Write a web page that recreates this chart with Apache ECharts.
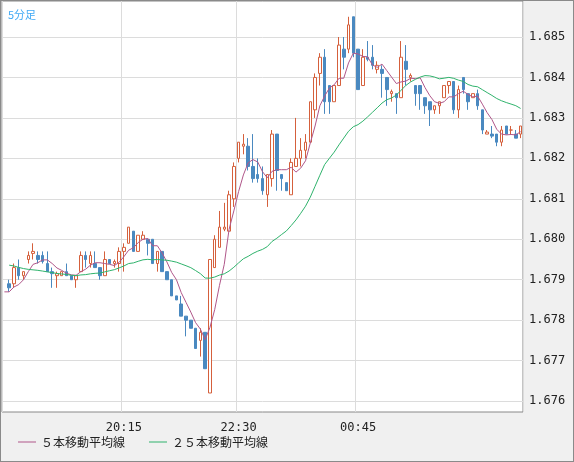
<!DOCTYPE html>
<html><head><meta charset="utf-8">
<script src="https://cdn.jsdelivr.net/npm/echarts@6/dist/echarts.min.js"></script>
<style>html,body{margin:0;padding:0;background:#f0f0f0}#c{width:572px;height:460px;border:1px solid #8a8a8a}</style>
</head><body><div id="c"></div>
<script>
// OHLC as [open, high, low, close]
const ohlc = [
[1.6789,1.6790,1.6787,1.6788],[1.6789,1.6794,1.6788,1.6793],[1.6793,1.6795,1.6790,1.6791],[1.6791,1.6792,1.6790,1.6792],
[1.6795,1.6797,1.6794,1.6796],[1.67965,1.6799,1.6795,1.6797],[1.6796,1.6797,1.6794,1.6795],[1.6796,1.6797,1.6794,1.67945],
[1.6794,1.6797,1.6792,1.6792],[1.6792,1.6793,1.6788,1.67915],[1.6791,1.6792,1.6788,1.67915],[1.6791,1.6792,1.6791,1.6792],
[1.6792,1.6794,1.6791,1.6791],[1.6791,1.6791,1.6790,1.6790],[1.6790,1.6791,1.6788,1.6791],[1.6792,1.6797,1.6792,1.6796],
[1.6796,1.6797,1.6793,1.6795],[1.6794,1.6797,1.6793,1.6796],[1.6794,1.6797,1.6793,1.6793],[1.6793,1.6793,1.6790,1.6791],
[1.6791,1.6797,1.6791,1.6795],[1.6795,1.6795,1.6794,1.6794],[1.6794,1.6795,1.6793,1.67945],[1.6794,1.6798,1.6792,1.6797],
[1.6797,1.6799,1.6792,1.6798],[1.6799,1.6803,1.6799,1.6803],[1.6802,1.6802,1.6797,1.6797],[1.6797,1.6801,1.6797,1.6801],
[1.6800,1.6802,1.6800,1.6801],[1.6800,1.6800,1.6796,1.6799],[1.6800,1.6800,1.6794,1.6794],[1.6794,1.6797,1.6792,1.6797],
[1.6797,1.6797,1.6792,1.6792],[1.6792,1.6792,1.6790,1.6790],[1.6790,1.6790,1.6786,1.6786],[1.6786,1.6786,1.6785,1.6785],
[1.6784,1.6786,1.6781,1.6781],[1.6781,1.6781,1.6776,1.6780],[1.6780,1.6780,1.6778,1.6778],[1.6778,1.6778,1.6773,1.6773],
[1.6775,1.6778,1.6771,1.6777],[1.6777,1.6777,1.6768,1.6768],[1.6762,1.6795,1.6762,1.6795],[1.6793,1.6801,1.6793,1.6800],
[1.6798,1.6807,1.6798,1.6803],[1.68025,1.6809,1.6802,1.6803],[1.6802,1.6812,1.6802,1.6811],[1.6810,1.6819,1.6808,1.6818],
[1.6820,1.6824,1.6819,1.6824],[1.6823,1.6826,1.6821,1.68235],[1.6823,1.6825,1.6817,1.6818],[1.6818,1.6826,1.6814,1.6815],
[1.6816,1.6820,1.6814,1.6815],[1.6815,1.6818,1.6811,1.6812],[1.6811,1.6816,1.6808,1.6816],[1.6815,1.6827,1.6813,1.6826],
[1.6826,1.6826,1.6812,1.6817],[1.6816,1.6816,1.6812,1.6815],[1.6814,1.6814,1.6812,1.6812],[1.6811,1.6820,1.6811,1.6819],
[1.6818,1.6830,1.6818,1.6820],[1.6820,1.6825,1.6818,1.6822],[1.6822,1.6826,1.6820,1.6824],[1.6824,1.6834,1.6824,1.6834],
[1.6832,1.6841,1.6830,1.6840],[1.6841,1.6846,1.6838,1.6845],[1.6845,1.6847,1.6831,1.6834],[1.6838,1.6838,1.6831,1.6834],
[1.6834,1.6838,1.6834,1.6838],[1.6838,1.6850,1.6838,1.6848],[1.6847,1.6850,1.6842,1.6845],[1.6847,1.6855,1.6846,1.6853],
[1.6855,1.6855,1.6845,1.6846],[1.6847,1.6847,1.6837,1.6837],[1.6838,1.6847,1.6838,1.6845],[1.6845,1.6849,1.6844,1.68445],
[1.6845,1.6848,1.6842,1.6843],[1.6842,1.6844,1.6841,1.6843],[1.6842,1.6843,1.6835,1.6841],[1.6840,1.6840,1.6833,1.6837],
[1.6836,1.6837,1.6834,1.68365],[1.6836,1.6836,1.6831,1.6835],[1.6835,1.6849,1.6835,1.6845],[1.6844,1.6848,1.6838,1.6842],
[1.6840,1.6841,1.6839,1.68405],[1.6838,1.6838,1.6833,1.6836],[1.6838,1.6838,1.6832,1.6836],[1.6835,1.6835,1.6831,1.6833],
[1.6834,1.6834,1.6828,1.6832],[1.6832,1.6833,1.6831,1.6833],[1.6833,1.6834,1.6831,1.6834],[1.6835,1.6838,1.6835,1.6838],
[1.6838,1.6839,1.6836,1.6839],[1.6839,1.6839,1.6831,1.6832],[1.6832,1.6838,1.6830,1.6837],[1.6840,1.6840,1.6836,1.6837],
[1.6836,1.6836,1.6832,1.6834],[1.6835,1.6836,1.6835,1.6836],[1.6836,1.6837,1.6832,1.6833],[1.6832,1.6832,1.6826,1.6827],
[1.6826,1.6827,1.6826,1.68265],[1.6826,1.6828,1.6825,1.68255],[1.6826,1.6826,1.6823,1.6824],[1.6824,1.6828,1.6823,1.6827],
[1.6828,1.6828,1.6826,1.6826],[1.6827,1.6828,1.6826,1.6827],[1.6826,1.6827,1.6825,1.6825],[1.6826,1.6828,1.6825,1.6828]
];
// closes before the visible window (for moving averages)
const priorCloses = [1.6798,1.6800,1.6799,1.6801,1.6800,1.6798,1.6799,1.6797,1.6796,1.6797,1.6795,1.6794,
1.6795,1.6793,1.6792,1.6793,1.6791,1.6790,1.6789,1.6788,1.6787,1.6788,1.6786,1.6786];
const timeTicks = {0:'', 25:'20:15', 49:'22:30', 74:'00:45'};
const yTicks = [1.676,1.677,1.678,1.679,1.680,1.681,1.682,1.683,1.684,1.685];
const seriesNames = ['５本移動平均線','２５本移動平均線'];

const n = ohlc.length + 1;
const categories = Array.from({length:n},(_, i)=> timeTicks[i] !== undefined ? timeTicks[i] : 'c'+i);
const candle = ['-'].concat(ohlc.map(d=>[d[0],d[3],d[2],d[1]]));
const closes = priorCloses.concat(ohlc.map(d=>d[3]));
function ma(p){
  const out=[]; const off = priorCloses.length - 1;
  for(let i=0;i<n;i++){ const j=off+i; if(j-p+1<0){out.push('-');continue;}
    let s=0; for(let k=j-p+1;k<=j;k++) s+=closes[k]; out.push(+(s/p).toFixed(6)); }
  return out;
}
const tickIdx = i => timeTicks[i] !== undefined;
const chart = echarts.init(document.getElementById('c'));
const font = 'DejaVu Sans Mono';
chart.setOption({
  animation:false,
  backgroundColor:'#f0f0f0',
  title:{text:'5分足',left:2,top:3,textStyle:{color:'#3fa9f5',fontSize:11,fontWeight:'normal',fontFamily:'Noto Sans CJK JP'}},
  legend:{bottom:8,left:12,itemWidth:18,itemHeight:1,itemGap:24,icon:'rect',
    textStyle:{fontSize:12,color:'#222',fontFamily:'Noto Sans CJK JP'},data:seriesNames},
  grid:{left:1,right:50,top:0,bottom:49,show:true,backgroundColor:'#fff',borderColor:'#888',borderWidth:1},
  xAxis:{type:'category',data:categories,boundaryGap:true,
    axisLine:{show:false},axisTick:{show:false},
    axisLabel:{interval:(i)=>tickIdx(i)&&i>0,formatter:v=>v.startsWith('c')?'':v,color:'#222',fontFamily:font,fontSize:12,margin:10},
    splitLine:{show:true,interval:(i)=>tickIdx(i),lineStyle:{color:'#dcdcdc'}}},
  yAxis:{type:'value',position:'right',scale:true,min:1.67573,max:1.68589,
    axisLine:{show:false},axisTick:{show:false,customValues:yTicks},
    axisLabel:{customValues:yTicks,formatter:v=>v.toFixed(3),color:'#222',fontFamily:font,fontSize:12,margin:6},
    splitLine:{show:true,lineStyle:{color:'#dcdcdc'}}},
  series:[
    {type:'candlestick',data:candle,barWidth:3,
      itemStyle:{color:'#ffffff',color0:'#4a89c0',borderColor:'#d5603c',borderColor0:'#4a89c0',borderWidth:1}},
    {name:seriesNames[0],type:'line',data:ma(5),symbol:'none',lineStyle:{width:1,color:'#b0578a'},itemStyle:{color:'#b0578a'}},
    {name:seriesNames[1],type:'line',data:ma(25),symbol:'none',lineStyle:{width:1,color:'#2fb36c'},itemStyle:{color:'#2fb36c'}}
  ]
});
</script></body></html>
